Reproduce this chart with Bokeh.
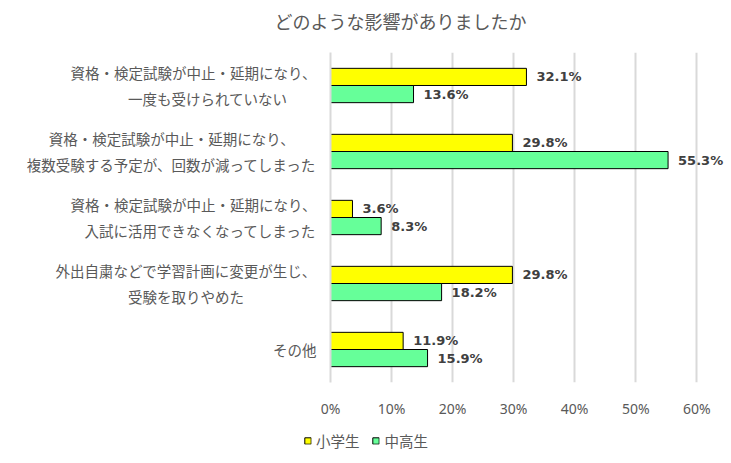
from bokeh.plotting import figure
from bokeh.layouts import column
from bokeh.core.properties import value
from bokeh.models import (ColumnDataSource, FactorRange, LabelSet, Label, Legend, LegendItem,
                          FixedTicker, NumeralTickFormatter)
from bokeh.transform import dodge
from bokeh.embed import file_html
from bokeh.resources import INLINE

SP = "\u3000"
title_text = "どのような影響がありましたか"
categories = [
    "資格・検定試験が中止・延期になり、\n一度も受けられていない" + SP * 2,
    "資格・検定試験が中止・延期になり、" + SP * 2 + "\n複数受験する予定が、回数が減ってしまった",
    "資格・検定試験が中止・延期になり、\n入試に活用できなくなってしまった",
    "外出自粛などで学習計画に変更が生じ、\n受験を取りやめた" + SP * 5,
    "その他",
]
elementary = [0.321, 0.298, 0.036, 0.298, 0.119]
junior_senior = [0.136, 0.553, 0.083, 0.182, 0.159]
series_names = ["小学生", "中高生"]
colors = ["#FFFF00", "#66FF99"]
x_ticks = [0, 0.1, 0.2, 0.3, 0.4, 0.5, 0.6]

JP = "Noto Sans CJK JP"
GRAY = "#595959"
W = 731

# ---- title strip
tt = figure(width=W, height=40, output_backend="svg", toolbar_location=None,
            x_axis_type=None, y_axis_type=None, min_border=0,
            x_range=(0, W), y_range=(40, 0))
tt.frame_align = False
tt.outline_line_color = None
tt.grid.grid_line_color = None
tt.add_layout(Label(x=400, y=20, text=title_text, text_align="center", text_baseline="middle",
                    text_font=JP, text_font_size="18px", text_color=GRAY))

# ---- main chart
src = ColumnDataSource(dict(
    cat=categories,
    e=elementary,
    j=junior_senior,
    el=[f"{v*100:.1f}%" for v in elementary],
    jl=[f"{v*100:.1f}%" for v in junior_senior],
))

p = figure(width=W, height=385, output_backend="svg", toolbar_location=None,
           y_range=FactorRange(*reversed(categories), range_padding=0),
           x_range=(0, 0.652),
           min_border_left=330, min_border_right=3, min_border_top=12, min_border_bottom=43)
p.frame_align = False
p.outline_line_color = None
p.background_fill_color = "white"
p.border_fill_color = "white"

p.hbar(y=dodge("cat", 0.13, range=p.y_range), right="e", left=0, height=0.26,
       source=src, fill_color=colors[0], line_color="black", line_width=1)
p.hbar(y=dodge("cat", -0.13, range=p.y_range), right="j", left=0, height=0.26,
       source=src, fill_color=colors[1], line_color="black", line_width=1)

for col, lab, off in (("e", "el", 0.13), ("j", "jl", -0.13)):
    p.add_layout(LabelSet(x=col, y=dodge("cat", off, range=p.y_range), text=lab, source=src,
                          x_offset=10, text_baseline="middle", text_align="left",
                          text_font=value("DejaVu Sans"), text_font_style="bold",
                          text_font_size=value("13px"), text_color="#404040"))

p.xaxis.ticker = FixedTicker(ticks=x_ticks)
p.xaxis.formatter = NumeralTickFormatter(format="0%")
p.xaxis.axis_line_color = None
p.xaxis.major_tick_line_color = None
p.xaxis.minor_tick_line_color = None
p.xaxis.major_label_text_font = "Noto Sans"
p.xaxis.major_label_text_font_size = "14px"
p.xaxis.major_label_text_color = GRAY
p.xaxis.major_label_standoff = 10

p.yaxis.axis_line_color = "#d9d9d9"
p.yaxis.axis_line_width = 2
p.yaxis.major_tick_line_color = None
p.yaxis.minor_tick_line_color = None
p.yaxis.major_label_text_font = JP
p.yaxis.major_label_text_font_size = "14.5px"
p.yaxis.major_label_text_color = GRAY
p.yaxis.major_label_standoff = 8

p.ygrid.grid_line_color = None
p.xgrid.grid_line_color = "#d9d9d9"
p.xgrid.grid_line_width = 2

# ---- legend strip
lg = figure(width=W, height=30, output_backend="svg", toolbar_location=None,
            x_axis_type=None, y_axis_type=None, min_border=0,
            x_range=(0, 1), y_range=(0, 1))
lg.frame_align = False
lg.outline_line_color = None
lg.grid.grid_line_color = None
nan = float("nan")
items = []
for name, c in zip(series_names, colors):
    r = lg.quad(left=[nan], right=[nan], top=[nan], bottom=[nan],
                fill_color=c, line_color="black", line_width=1)
    items.append(LegendItem(label=name, renderers=[r]))
legend = Legend(items=items, orientation="horizontal", location="center",
                glyph_width=8, glyph_height=8, label_standoff=5, spacing=12,
                padding=0, margin=0, border_line_color=None, background_fill_alpha=0,
                label_text_font=JP, label_text_font_size="14.5px", label_text_color=GRAY,
                label_height=14)
lg.add_layout(legend, "center")

layout = column(tt, p, lg, spacing=0)
open("out.html", "w").write(file_html(layout, INLINE))
